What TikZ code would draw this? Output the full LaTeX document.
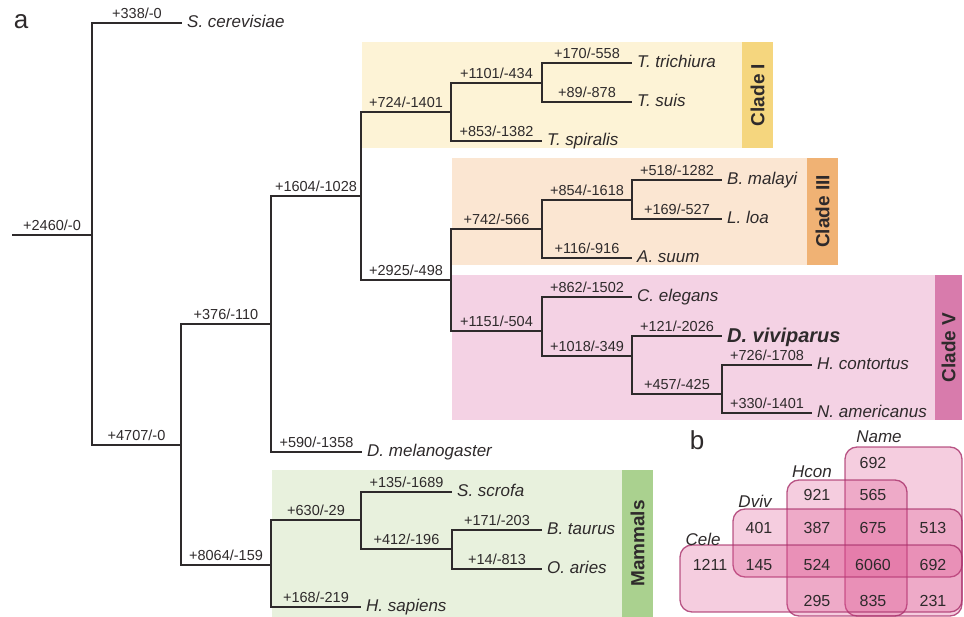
\documentclass[tikz,border=0pt]{standalone}
\usepackage{fontspec}
\setmainfont{Liberation Sans}
\definecolor{txt}{HTML}{2E2A2B}
\definecolor{cladeIbg}{HTML}{FDF3D6}
\definecolor{cladeIbox}{HTML}{F5D67E}
\definecolor{cladeIIIbg}{HTML}{FBE6D2}
\definecolor{cladeIIIbox}{HTML}{F0B274}
\definecolor{cladeVbg}{HTML}{F4D2E4}
\definecolor{cladeVbox}{HTML}{D87BAC}
\definecolor{mammbg}{HTML}{E8F1DD}
\definecolor{mammbox}{HTML}{AAD18F}
\definecolor{vennfill}{HTML}{DB4D8C}
\definecolor{vennline}{HTML}{A8306A}
\begin{document}
\begin{tikzpicture}[x=1pt,y=-1pt,
    branch/.style={line width=1.8pt,draw=txt},
    gain/.style={font=\fontsize{14.5}{15}\selectfont,text=txt,anchor=south,inner sep=1pt,yshift=2pt},
    species/.style={font=\fontsize{17}{18}\selectfont\itshape,text=txt,anchor=base west,inner sep=0pt,xshift=5pt,yshift=-4.5pt},
    cladetag/.style={font=\fontsize{19}{20}\selectfont\bfseries,text=txt,rotate=90},
    venn/.style={rounded corners=12pt,fill=vennfill,fill opacity=0.28,draw=vennline,draw opacity=0.8,line width=1.3pt},
    vnum/.style={font=\fontsize{16}{16}\selectfont,text=txt},
    vset/.style={font=\fontsize{17}{17}\selectfont\itshape,text=txt}]
  \useasboundingbox (0,0) rectangle (964,617);

  % clade shading
  \fill[cladeIbg] (362,42) rectangle (773,148);
  \fill[cladeIbox] (742,42) rectangle (773,148);
  \fill[cladeIIIbg] (452,158) rectangle (838,265);
  \fill[cladeIIIbox] (807,158) rectangle (838,265);
  \fill[cladeVbg] (452,275) rectangle (962,420);
  \fill[cladeVbox] (935,275) rectangle (962,420);
  \fill[mammbg] (272,470) rectangle (653,617);
  \fill[mammbox] (622,470) rectangle (653,617);
  \node[cladetag] (cladeI) at (757.5,95) {Clade I};
  \node[cladetag] (cladeIII) at (822.5,211.5) {Clade III};
  \node[cladetag] (cladeV) at (948.5,347.5) {Clade V};
  \node[cladetag] (mammals) at (637.5,543.5) {Mammals};

  \node[font=\fontsize{26}{26}\selectfont,text=txt] (pa) at (21,22) {a};
  \node[font=\fontsize{26}{26}\selectfont,text=txt] (pb) at (697,440) {b};

  % tree
  \coordinate (r0) at (12,235);
  \coordinate (n0) at (92,235);
  \coordinate (sce) at (182,23);
  \coordinate (n1) at (181,445);
  \coordinate (n2) at (271,324);
  \coordinate (n3) at (361,196);
  \coordinate (dme) at (362,452);
  \coordinate (n4) at (451,112);
  \coordinate (n5) at (451,280);
  \coordinate (n6) at (542,83);
  \coordinate (ttr) at (632,63);
  \coordinate (tsu) at (632,102);
  \coordinate (tsp) at (542,141);
  \coordinate (n7) at (542,229);
  \coordinate (n8) at (632,200);
  \coordinate (bma) at (722,180);
  \coordinate (llo) at (722,219);
  \coordinate (asu) at (632,258);
  \coordinate (n9) at (542,331);
  \coordinate (cel) at (632,297);
  \coordinate (n10) at (632,356);
  \coordinate (dvi) at (722,336);
  \coordinate (n11) at (722,394);
  \coordinate (hco) at (812,365);
  \coordinate (nam) at (812,413);
  \coordinate (n12) at (271,565);
  \coordinate (n13) at (361,520);
  \coordinate (hsa) at (361,607);
  \coordinate (ssc) at (452,492);
  \coordinate (n14) at (452,549);
  \coordinate (bta) at (542,530);
  \coordinate (oar) at (542,569);
  \begin{scope}[branch]
    \draw (r0) -- (n0) node[gain,midway] (g0) {+2460/-0};
    \draw (n0) |- (sce) node[gain,pos=0.75] (g1) {+338/-0};
    \draw (n0) |- (n1) node[gain,pos=0.75] (g2) {+4707/-0};
    \draw (n1) |- (n2) node[gain,pos=0.75] (g3) {+376/-110};
    \draw (n2) |- (n3) node[gain,pos=0.75] (g4) {+1604/-1028};
    \draw (n2) |- (dme) node[gain,pos=0.75] (g5) {+590/-1358};
    \draw (n3) |- (n4) node[gain,pos=0.75] (g6) {+724/-1401};
    \draw (n3) |- (n5) node[gain,pos=0.75] (g7) {+2925/-498};
    \draw (n4) |- (n6) node[gain,pos=0.75] (g8) {+1101/-434};
    \draw (n4) |- (tsp) node[gain,pos=0.75] (g9) {+853/-1382};
    \draw (n6) |- (ttr) node[gain,pos=0.75] (g10) {+170/-558};
    \draw (n6) |- (tsu) node[gain,pos=0.75] (g11) {+89/-878};
    \draw (n5) |- (n7) node[gain,pos=0.75] (g12) {+742/-566};
    \draw (n7) |- (n8) node[gain,pos=0.75] (g13) {+854/-1618};
    \draw (n7) |- (asu) node[gain,pos=0.75] (g14) {+116/-916};
    \draw (n8) |- (bma) node[gain,pos=0.75] (g15) {+518/-1282};
    \draw (n8) |- (llo) node[gain,pos=0.75] (g16) {+169/-527};
    \draw (n5) |- (n9) node[gain,pos=0.75] (g17) {+1151/-504};
    \draw (n9) |- (cel) node[gain,pos=0.75] (g18) {+862/-1502};
    \draw (n9) |- (n10) node[gain,pos=0.75] (g19) {+1018/-349};
    \draw (n10) |- (dvi) node[gain,pos=0.75] (g20) {+121/-2026};
    \draw (n10) |- (n11) node[gain,pos=0.75] (g21) {+457/-425};
    \draw (n11) |- (hco) node[gain,pos=0.75] (g22) {+726/-1708};
    \draw (n11) |- (nam) node[gain,pos=0.75] (g23) {+330/-1401};
    \draw (n1) |- (n12) node[gain,pos=0.75] (g24) {+8064/-159};
    \draw (n12) |- (n13) node[gain,pos=0.75] (g25) {+630/-29};
    \draw (n12) |- (hsa) node[gain,pos=0.75] (g26) {+168/-219};
    \draw (n13) |- (ssc) node[gain,pos=0.75] (g27) {+135/-1689};
    \draw (n13) |- (n14) node[gain,pos=0.75] (g28) {+412/-196};
    \draw (n14) |- (bta) node[gain,pos=0.75] (g29) {+171/-203};
    \draw (n14) |- (oar) node[gain,pos=0.75] (g30) {+14/-813};
  \end{scope}

  \node[species] (sceN) at (sce) {S. cerevisiae};
  \node[species] (dmeN) at (dme) {D. melanogaster};
  \node[species] (ttrN) at (ttr) {T. trichiura};
  \node[species] (tsuN) at (tsu) {T. suis};
  \node[species] (tspN) at (tsp) {T. spiralis};
  \node[species] (bmaN) at (bma) {B. malayi};
  \node[species] (lloN) at (llo) {L. loa};
  \node[species] (asuN) at (asu) {A. suum};
  \node[species] (celN) at (cel) {C. elegans};
  \node[species,font=\fontsize{20}{20}\selectfont\bfseries\itshape,yshift=-2pt] (dviN) at (dvi) {D. viviparus};
  \node[species] (hcoN) at (hco) {H. contortus};
  \node[species] (namN) at (nam) {N. americanus};
  \node[species] (sscN) at (ssc) {S. scrofa};
  \node[species] (btaN) at (bta) {B. taurus};
  \node[species] (oarN) at (oar) {O. aries};
  \node[species] (hsaN) at (hsa) {H. sapiens};

  % venn
  \draw[venn] (845,447) rectangle (962,616);
  \draw[venn] (787,480) rectangle (907,616);
  \draw[venn] (733,509) rectangle (962,577);
  \draw[venn] (680,545) rectangle (962,612);
  \node[vset] (setName) at (879,437) {Name};
  \node[vset] (setHcon) at (812,472) {Hcon};
  \node[vset] (setDviv) at (755,501) {Dviv};
  \node[vset] (setCele) at (703,539) {Cele};
  \node[vnum] (v1) at (873,463) {692};
  \node[vnum] (v2) at (817,495) {921};
  \node[vnum] (v3) at (873,495) {565};
  \node[vnum] (v4) at (759,528) {401};
  \node[vnum] (v5) at (817,528) {387};
  \node[vnum] (v6) at (873,528) {675};
  \node[vnum] (v7) at (933,528) {513};
  \node[vnum] (v8) at (710,565) {1211};
  \node[vnum] (v9) at (759,565) {145};
  \node[vnum] (v10) at (817,565) {524};
  \node[vnum] (v11) at (873,565) {6060};
  \node[vnum] (v12) at (933,565) {692};
  \node[vnum] (v13) at (817,601) {295};
  \node[vnum] (v14) at (873,601) {835};
  \node[vnum] (v15) at (933,601) {231};
\end{tikzpicture}
\end{document}
